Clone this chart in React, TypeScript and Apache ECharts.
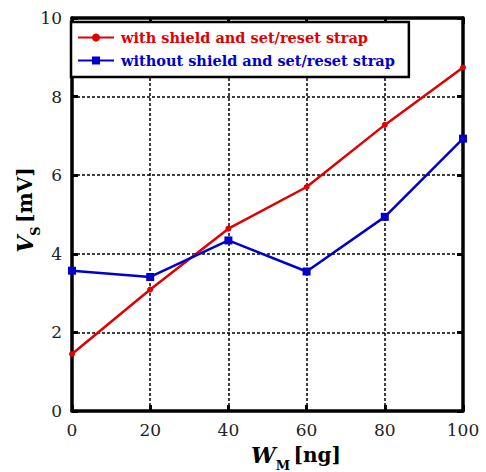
import React, { useEffect, useRef } from "react";
import * as echarts from "echarts";

const xValues = [0, 20, 40, 60, 80, 100];
const withShield = [1.45, 3.09, 4.64, 5.7, 7.28, 8.74];
const withoutShield = [3.57, 3.41, 4.34, 3.55, 4.94, 6.93];
const seriesNames = ["with shield and set/reset strap", "without shield and set/reset strap"];

const FONT = "DejaVu Serif";

export default function App() {
  const ref = useRef<HTMLDivElement>(null);
  useEffect(() => {
    const chart = echarts.init(ref.current!, null, { renderer: "svg" });
    const splitLine = { show: true, lineStyle: { color: "#000", width: 1.5, type: [3, 2] as any } };
    const tick = { show: true, inside: true, length: 6, lineStyle: { color: "#000", width: 3 } };
    const axisLine = { show: true, onZero: false, lineStyle: { color: "#000", width: 3.5 } };
    const label = { color: "#222", fontFamily: FONT, fontSize: 17, margin: 10 };
    const titleRich = {
      it: { fontFamily: FONT, fontSize: 22, fontWeight: "bold", fontStyle: "italic", color: "#000", lineHeight: 28 },
      sub: { fontFamily: FONT, fontSize: 13, fontWeight: "bold", color: "#000", lineHeight: 8, height: 8, verticalAlign: "bottom" },
      b: { fontFamily: FONT, fontSize: 20, fontWeight: "bold", color: "#000", lineHeight: 28 },
    };
    chart.setOption({
      animation: false,
      grid: { left: 72, right: 23, top: 18, bottom: 61, show: false },
      legend: {
        orient: "vertical",
        left: 71,
        top: 22,
        padding: [8, 14, 9, 6],
        itemGap: 8,
        itemWidth: 36,
        itemHeight: 10,
        backgroundColor: "#fff",
        borderColor: "#000",
        borderWidth: 2.5,
        borderRadius: 0,
        textStyle: { fontFamily: FONT, fontSize: 14.5, fontWeight: "bold", padding: [0, 0, 0, 2] },
        data: [
          { name: seriesNames[0], textStyle: { color: "#e00000" } },
          { name: seriesNames[1], textStyle: { color: "#0000cc" } },
        ],
      },
      xAxis: [
        {
          type: "value",
          min: 0,
          max: 100,
          interval: 20,
          position: "bottom",
          axisLine,
          axisTick: tick,
          splitLine,
          axisLabel: label,
        },
        {
          type: "value",
          min: 0,
          max: 100,
          interval: 20,
          position: "top",
          axisLine,
          axisTick: tick,
          splitLine: { show: false },
          axisLabel: { show: false },
        },
      ],
      yAxis: [
        {
          type: "value",
          min: 0,
          max: 10,
          interval: 2,
          position: "left",
          axisLine,
          axisTick: tick,
          splitLine,
          axisLabel: label,
        },
        {
          type: "value",
          min: 0,
          max: 10,
          interval: 2,
          position: "right",
          axisLine,
          axisTick: tick,
          splitLine: { show: false },
          axisLabel: { show: false },
        },
      ],
      graphic: [
        {
          type: "text",
          x: 296,
          y: 455,
          style: {
            text: "{it|W}{sub|M} {b|[ng]}",
            rich: titleRich,
            align: "center",
            verticalAlign: "middle",
          },
        },
        {
          type: "text",
          x: 25,
          y: 210,
          rotation: Math.PI / 2,
          style: {
            text: "{it|V}{sub|S} {b|[mV]}",
            rich: titleRich,
            align: "center",
            verticalAlign: "middle",
          },
        },
      ],
      series: [
        {
          name: seriesNames[0],
          type: "line",
          data: xValues.map((x, i) => [x, withShield[i]]),
          symbol: "circle",
          symbolSize: 6,
          lineStyle: { color: "#e00000", width: 2.5 },
          itemStyle: { color: "#e00000" },
          z: 3,
        },
        {
          name: seriesNames[1],
          type: "line",
          data: xValues.map((x, i) => [x, withoutShield[i]]),
          symbol: "rect",
          symbolSize: 8,
          lineStyle: { color: "#0000cc", width: 2.5 },
          itemStyle: { color: "#0000cc" },
          z: 3,
        },
      ],
    });
    return () => chart.dispose();
  }, []);
  return <div ref={ref} style={{ position: "fixed", left: 0, top: 0, width: 486, height: 472, background: "#fff" }} />;
}
